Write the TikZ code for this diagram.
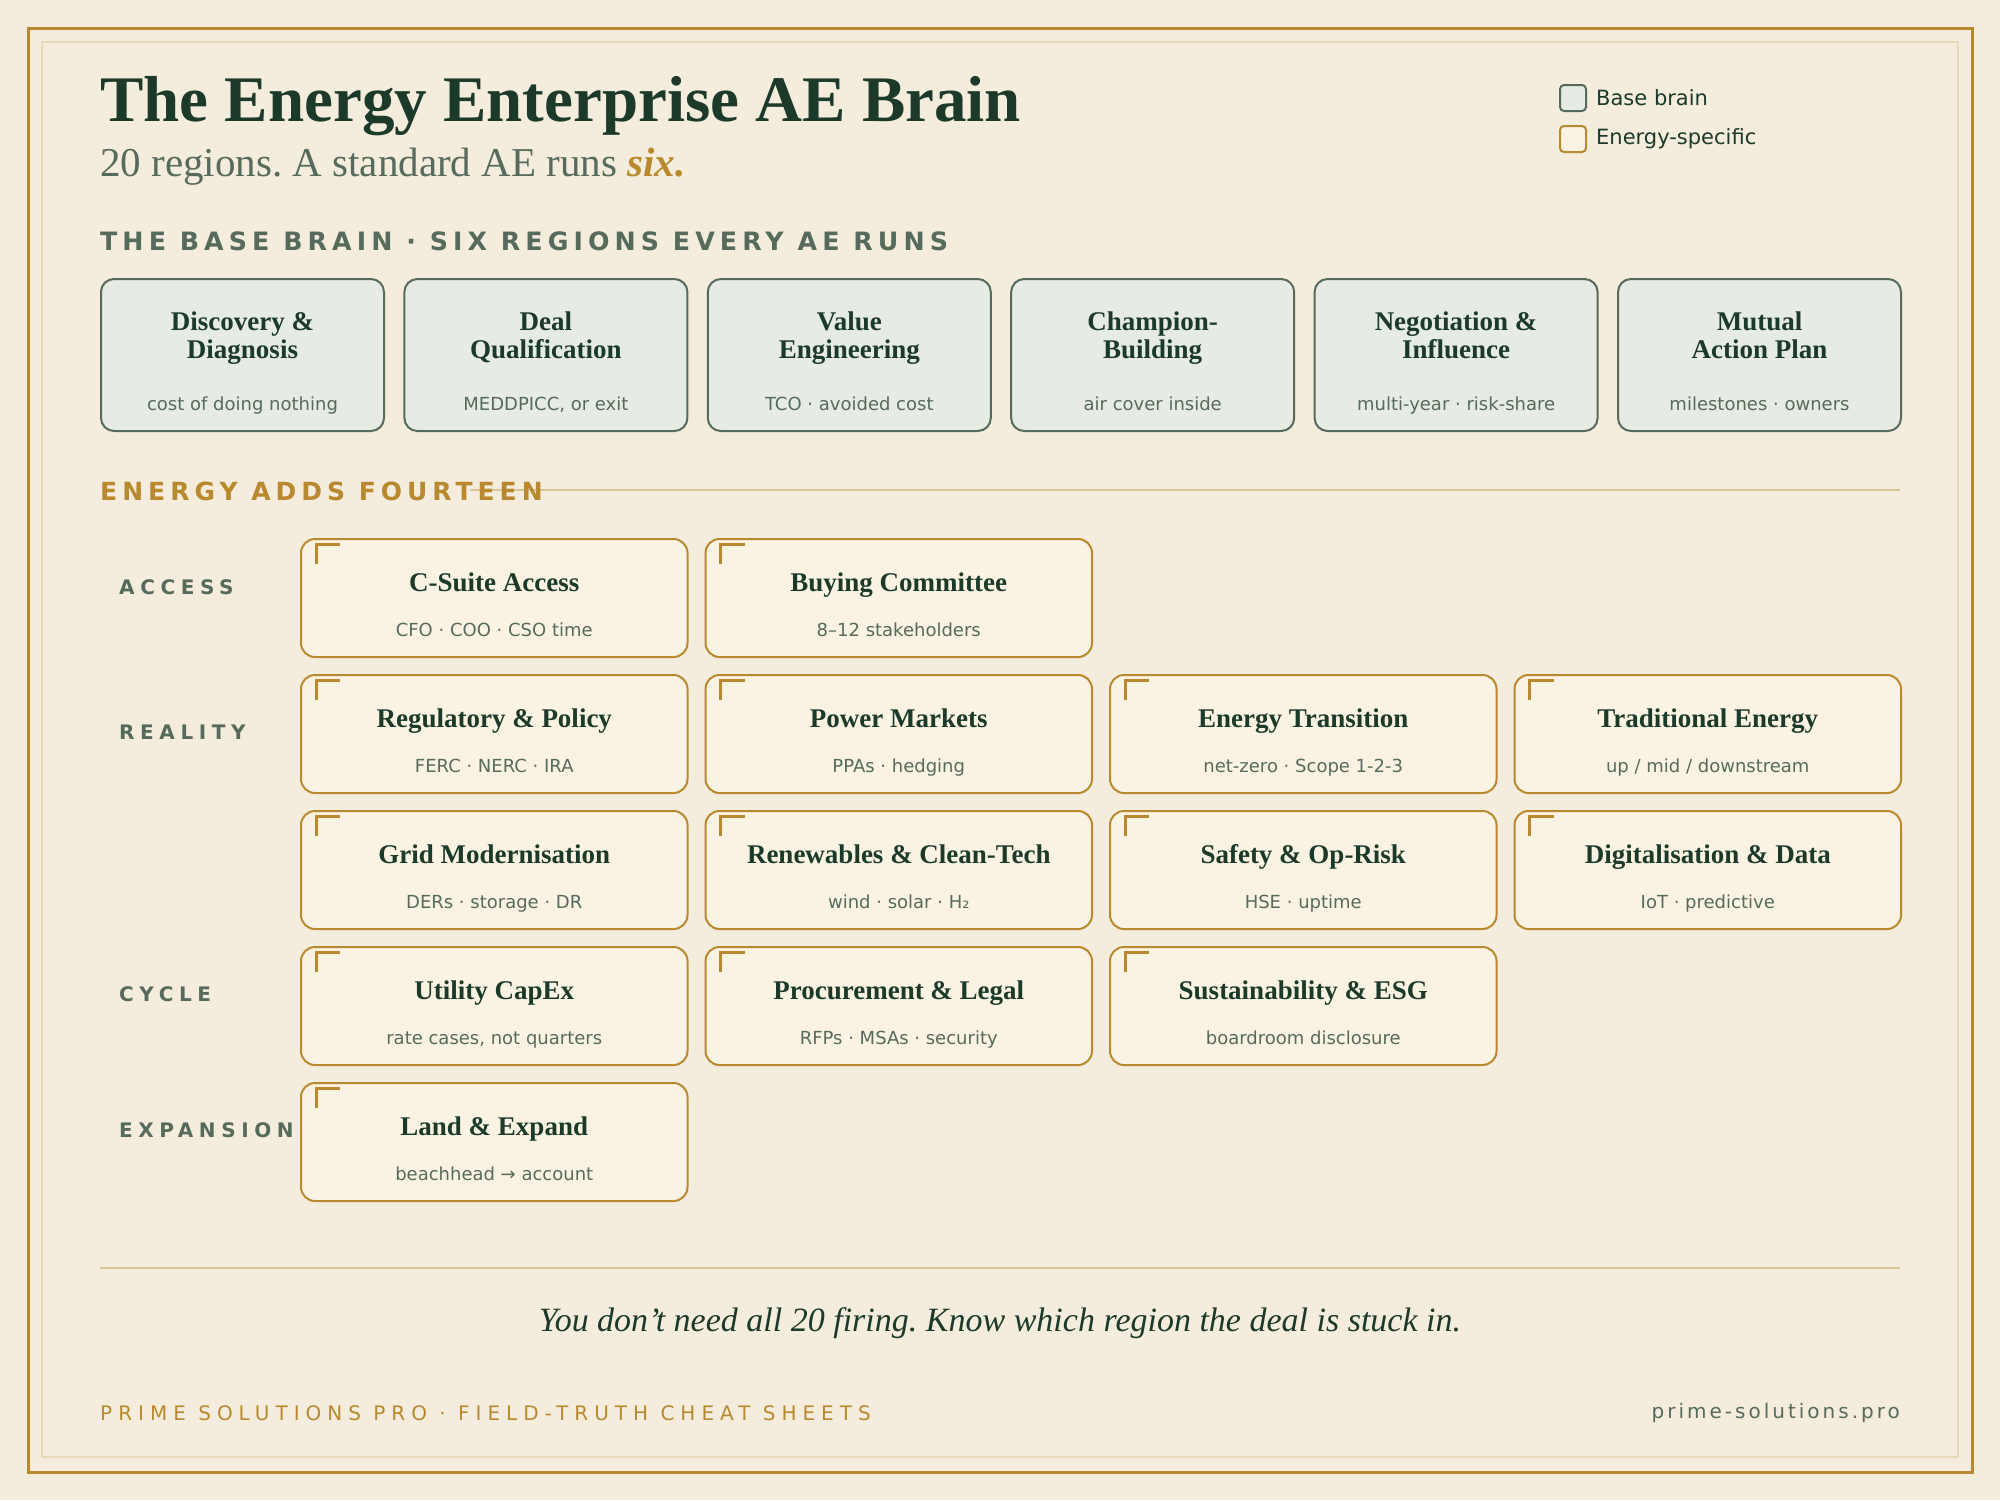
\documentclass[tikz,border=0pt]{standalone}
\usepackage{fontspec}
\setmainfont{Liberation Serif}
\setsansfont{DejaVu Sans}
\newfontfamily\dv{DejaVu Sans}
\newfontfamily\headfont{DejaVu Sans}[LetterSpace=20]
\newfontfamily\rowfont{DejaVu Sans}[LetterSpace=28]
\newfontfamily\footfont{DejaVu Sans}[LetterSpace=30]
\newfontfamily\urlfont{DejaVu Sans}[LetterSpace=15]
\frenchspacing
\definecolor{bg}{HTML}{F4ECDC}
\definecolor{gold}{HTML}{B8892E}
\definecolor{inner}{HTML}{E6D9B8}
\definecolor{dark}{HTML}{1C3A2A}
\definecolor{slate}{HTML}{566B5C}
\definecolor{basefill}{HTML}{E6EBE3}
\definecolor{enfill}{HTML}{FAF3E3}
\definecolor{rule}{HTML}{D9C495}
\tikzset{
  basebox/.style={draw=slate, fill=basefill, line width=2pt, rounded corners=13pt,
    minimum width=283pt, minimum height=152pt, inner sep=0pt},
  enbox/.style={draw=gold, fill=enfill, line width=2pt, rounded corners=14pt,
    minimum width=386.5pt, minimum height=118pt, inner sep=0pt},
  btitle/.style={inner sep=0pt, anchor=base, text=dark, font=\fontsize{27}{29}\selectfont\bfseries},
  bsub/.style={inner sep=0pt, anchor=base, text=slate, font=\dv\fontsize{18}{20}\selectfont},
  marker/.style={draw=gold, line width=3pt},
  rowlabel/.style={inner sep=0pt, anchor=west, text=slate, font=\rowfont\fontsize{20}{22}\selectfont\bfseries},
  legbox/.style={line width=2pt, rounded corners=4pt, minimum width=26pt, minimum height=26pt, inner sep=0pt},
  legtext/.style={inner sep=0pt, anchor=west, text=dark, font=\dv\fontsize{21}{23}\selectfont},
}
\newcommand\bbox[5]{%
  \node[basebox, anchor=north west] (#1) at (#2,278) {};
  \node[btitle] (#1ta) at ([yshift=-52pt]#1.north) {#3};
  \node[btitle] (#1tb) at ([yshift=-80pt]#1.north) {#4};
  \node[bsub] (#1s) at ([yshift=-132pt]#1.north) {#5};
}
\newcommand\ebox[5]{%
  \node[enbox, anchor=north west] (#1) at (#2,#3) {};
  \draw[marker] ([shift={(16pt,-26pt)}]#1.north west) -- ++(0pt,20pt) -- ++(24pt,0pt);
  \node[btitle] (#1t) at ([yshift=-53pt]#1.north) {#4};
  \node[bsub] (#1s) at ([yshift=-98.5pt]#1.north) {#5};
}
\begin{document}
\begin{tikzpicture}[x=1pt,y=-1pt]
\fill[bg] (0,0) rectangle (2000,1500);
\useasboundingbox (0,0) rectangle (2000,1500);
\draw[gold, line width=3pt] (28,28) rectangle (1972,1472);
\draw[inner, line width=2pt] (42,42) rectangle (1958,1457);

% title
\node[inner sep=0pt, anchor=base west, text=dark, font=\fontsize{65}{70}\selectfont\bfseries] (title) at (100,121) {The Energy Enterprise AE Brain};
\node[inner sep=0pt, anchor=base west, text=slate, font=\fontsize{41}{44}\selectfont] (subtitle) at (100,176) {20 regions. A standard AE runs \textcolor{gold}{\bfseries\itshape six.}};

% legend
\node[legbox, draw=slate, fill=basefill] (lg1) at (1573,98) {};
\node[legtext] (lg1t) at (1596,98) {Base brain};
\node[legbox, draw=gold, fill=enfill] (lg2) at (1573,139) {};
\node[legtext] (lg2t) at (1596,139) {Energy-specific};

% base brain
\node[inner sep=0pt, anchor=west, text=slate, font=\headfont\fontsize{25.3}{27}\selectfont\bfseries] (basehead) at (100,241) {THE BASE BRAIN · SIX REGIONS EVERY AE RUNS};
\bbox{b1}{100}{Discovery \&}{Diagnosis}{cost of doing nothing}
\bbox{b2}{403.4}{Deal}{Qualification}{MEDDPICC, or exit}
\bbox{b3}{706.8}{Value}{Engineering}{TCO · avoided cost}
\bbox{b4}{1010.2}{Champion-}{Building}{air cover inside}
\bbox{b5}{1313.6}{Negotiation \&}{Influence}{multi-year · risk-share}
\bbox{b6}{1617}{Mutual}{Action Plan}{milestones · owners}

% energy section
\coordinate (rs) at (470,490);
\coordinate (re) at (1900,490);
\draw[rule, line width=2pt] (rs) -- (re);
\node[inner sep=0pt, anchor=west, text=gold, font=\headfont\fontsize{25}{27}\selectfont\bfseries] (enhead) at (100,491) {ENERGY ADDS FOURTEEN};

\node[rowlabel] (lacc) at (119,587) {ACCESS};
\node[rowlabel] (lrea) at (119,732) {REALITY};
\node[rowlabel] (lcyc) at (119,994) {CYCLE};
\node[rowlabel] (lexp) at (119,1130) {EXPANSION};

\ebox{e11}{300}{538}{C-Suite Access}{CFO · COO · CSO time}
\ebox{e12}{704.5}{538}{Buying Committee}{8–12 stakeholders}
\ebox{e21}{300}{674}{Regulatory \& Policy}{FERC · NERC · IRA}
\ebox{e22}{704.5}{674}{Power Markets}{PPAs · hedging}
\ebox{e23}{1109}{674}{Energy Transition}{net-zero · Scope 1-2-3}
\ebox{e24}{1513.5}{674}{Traditional Energy}{up / mid / downstream}
\ebox{e31}{300}{810}{Grid Modernisation}{DERs · storage · DR}
\ebox{e32}{704.5}{810}{Renewables \& Clean-Tech}{wind · solar · H₂}
\ebox{e33}{1109}{810}{Safety \& Op-Risk}{HSE · uptime}
\ebox{e34}{1513.5}{810}{Digitalisation \& Data}{IoT · predictive}
\ebox{e41}{300}{946}{Utility CapEx}{rate cases, not quarters}
\ebox{e42}{704.5}{946}{Procurement \& Legal}{RFPs · MSAs · security}
\ebox{e43}{1109}{946}{Sustainability \& ESG}{boardroom disclosure}
\ebox{e51}{300}{1082}{Land \& Expand}{beachhead → account}

% footer
\coordinate (fs) at (100,1268);
\coordinate (fe) at (1900,1268);
\draw[rule, line width=2pt] (fs) -- (fe);
\node[inner sep=0pt, anchor=base, text=dark, font=\fontsize{34}{36}\selectfont\itshape] (quote) at (1000,1331) {You don’t need all 20 firing. Know which region the deal is stuck in.};
\node[inner sep=0pt, anchor=west, text=gold, font=\footfont\fontsize{20}{22}\selectfont] (footl) at (100,1413) {PRIME SOLUTIONS PRO · FIELD-TRUTH CHEAT SHEETS};
\node[inner sep=0pt, anchor=east, text=slate, font=\urlfont\fontsize{20}{22}\selectfont] (footr) at (1900,1413) {prime-solutions.pro};
\end{tikzpicture}
\end{document}
